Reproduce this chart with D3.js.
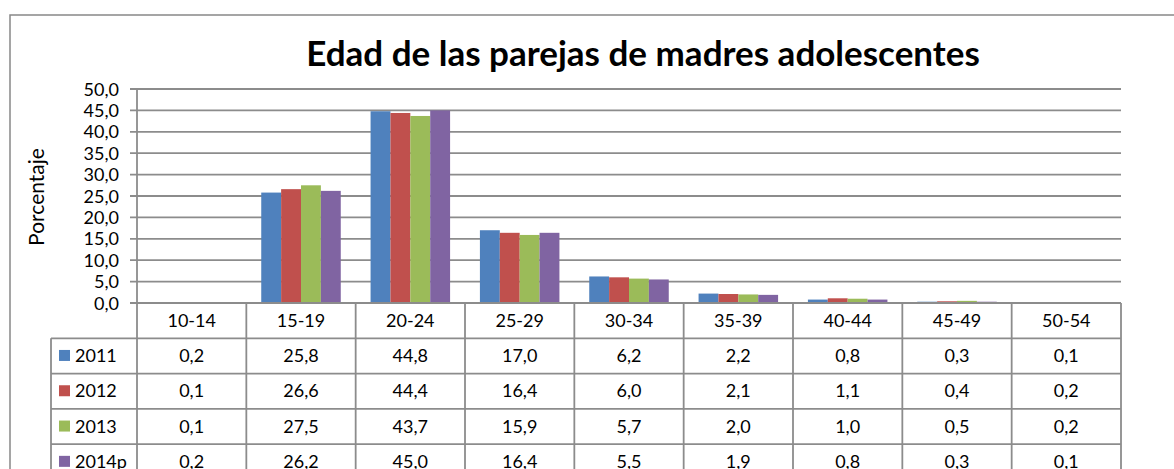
<!DOCTYPE html>
<html>
<head>
<meta charset="utf-8">
<script src="https://cdn.jsdelivr.net/npm/d3@7"></script>
<style>
  body { margin: 0; background: #fff; }
  svg { display: block; font-family: Lato, "Open Sans", sans-serif; }
</style>
</head>
<body>
<div id="chart"></div>
<script>
// data
var categories = ["10-14", "15-19", "20-24", "25-29", "30-34", "35-39", "40-44", "45-49", "50-54"]
var seriesNames = ["2011", "2012", "2013", "2014p"]
var v2011 = [0.2, 25.8, 44.8, 17.0, 6.2, 2.2, 0.8, 0.3, 0.1]
var v2012 = [0.1, 26.6, 44.4, 16.4, 6.0, 2.1, 1.1, 0.4, 0.2]
var v2013 = [0.1, 27.5, 43.7, 15.9, 5.7, 2.0, 1.0, 0.5, 0.2]
var v2014 = [0.2, 26.2, 45.0, 16.4, 5.5, 1.9, 0.8, 0.3, 0.1]
var yTicks = [0, 5, 10, 15, 20, 25, 30, 35, 40, 45, 50]

var colors = ["#4F81BD", "#C0504D", "#9BBB59", "#8064A2"]
var series = [v2011, v2012, v2013, v2014]

var W = 1174, H = 469
var plotLeft = 137, plotRight = 1121, plotTop = 89, plotBottom = 303
var rowH = 35.3, legendLeft = 51
var gridColor = "#8c8c8c"
var fs = 18
var fmt = function(v) { return v.toFixed(1).replace(".", ",") }

var svg = d3.select("#chart").append("svg")
    .attr("width", W)
    .attr("height", H)

// outer chart border
svg.append("rect")
    .attr("x", 10).attr("y", 15)
    .attr("width", W + 20).attr("height", H)
    .attr("fill", "none")
    .attr("stroke", "#888")
    .attr("stroke-width", 1.5)

svg.append("text")
    .attr("x", 643).attr("y", 66)
    .attr("text-anchor", "middle")
    .attr("font-size", 35)
    .attr("font-weight", "bold")
    .text("Edad de las parejas de madres adolescentes")

var x = d3.scaleBand()
    .domain(categories)
    .range([plotLeft, plotRight])
    .paddingInner(0)

var x1 = d3.scaleBand()
    .domain(seriesNames)
    .range([0, x.bandwidth()])
    .paddingInner(0)
    .paddingOuter(0.75)

var y = d3.scaleLinear()
    .domain([0, 50])
    .range([plotBottom, plotTop])

// gridlines
svg.append("g")
    .selectAll("line")
    .data(yTicks)
    .enter()
    .append("line")
    .attr("x1", plotLeft - 7).attr("x2", plotRight)
    .attr("y1", function(d) { return y(d) })
    .attr("y2", function(d) { return y(d) })
    .attr("stroke", gridColor)
    .attr("stroke-width", 1.8)

svg.append("g")
    .selectAll("text")
    .data(yTicks)
    .enter()
    .append("text")
    .attr("x", 119)
    .attr("y", function(d) { return y(d) + 6.5 })
    .attr("text-anchor", "end")
    .attr("font-size", fs)
    .text(function(d) { return fmt(d) })

svg.append("text")
    .attr("transform", "translate(44,197) rotate(-90)")
    .attr("text-anchor", "middle")
    .attr("font-size", 21)
    .text("Porcentaje")

// bars
var groups = svg.append("g")
    .selectAll("g")
    .data(categories)
    .enter()
    .append("g")
    .attr("transform", function(d) { return "translate(" + x(d) + ",0)" })

groups.selectAll("rect")
    .data(function(d, i) { return series.map(function(s, j) { return {k: seriesNames[j], v: s[i], c: colors[j]} }) })
    .enter()
    .append("rect")
    .attr("x", function(d) { return x1(d.k) })
    .attr("y", function(d) { return y(d.v) })
    .attr("width", x1.bandwidth())
    .attr("height", function(d) { return plotBottom - y(d.v) })
    .attr("fill", function(d) { return d.c })

// y axis line
svg.append("line")
    .attr("x1", plotLeft).attr("x2", plotLeft)
    .attr("y1", plotTop).attr("y2", plotBottom)
    .attr("stroke", gridColor).attr("stroke-width", 1.8)

// data table
var tbl = svg.append("g")
var tableBottom = H + 20

tbl.selectAll(".hdr")
    .data(categories)
    .enter()
    .append("text")
    .attr("x", function(d) { return x(d) + x.bandwidth() / 2 })
    .attr("y", plotBottom + rowH / 2 + 6.5)
    .attr("text-anchor", "middle")
    .attr("font-size", fs)
    .text(function(d) { return d })

for (var r = 0; r <= 4; r++) {
    tbl.append("line")
        .attr("x1", r === 0 ? plotLeft : legendLeft).attr("x2", plotRight)
        .attr("y1", plotBottom + r * rowH).attr("y2", plotBottom + r * rowH)
        .attr("stroke", gridColor).attr("stroke-width", 1.8)
}

var cols = categories.map(function(d) { return x(d) }).concat([plotRight])
tbl.selectAll(".vl")
    .data(cols)
    .enter()
    .append("line")
    .attr("x1", function(d) { return d }).attr("x2", function(d) { return d })
    .attr("y1", plotBottom).attr("y2", tableBottom)
    .attr("stroke", gridColor).attr("stroke-width", 1.8)

tbl.append("line")
    .attr("x1", legendLeft).attr("x2", legendLeft)
    .attr("y1", plotBottom + rowH).attr("y2", tableBottom)
    .attr("stroke", gridColor).attr("stroke-width", 1.8)

seriesNames.forEach(function(name, j) {
    var cy = plotBottom + (j + 1) * rowH + rowH / 2
    tbl.append("rect")
        .attr("x", 59).attr("y", cy - 6)
        .attr("width", 11).attr("height", 11)
        .attr("fill", colors[j])
    tbl.append("text")
        .attr("x", 75).attr("y", cy + 6)
        .attr("font-size", fs)
        .text(name)
    tbl.selectAll(".c" + j)
        .data(series[j])
        .enter()
        .append("text")
        .attr("x", function(d, i) { return x(categories[i]) + x.bandwidth() / 2 })
        .attr("y", cy + 6)
        .attr("text-anchor", "middle")
        .attr("font-size", fs)
        .text(function(d) { return fmt(d) })
})
</script>
</body>
</html>
